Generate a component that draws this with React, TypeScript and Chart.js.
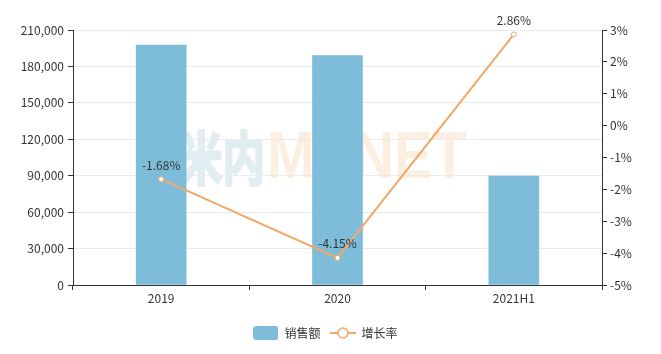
import React, { useEffect, useRef } from "react";
import { Chart, registerables } from "chart.js";

Chart.register(...registerables);

const categories = ["2019", "2020", "2021H1"];
const salesValues = [197600, 189000, 89800];
const growthRates = [-1.68, -4.15, 2.86];
const salesLabel = "销售额";
const growthLabel = "增长率";
const leftTicks = { min: 0, max: 210000, step: 30000 };
const rightTicks = { min: -5, max: 3, step: 1 };

const BAR_COLOR = "#7EBDDA";
const LINE_COLOR = "#F2A86A";
const TEXT_COLOR = "#333333";
const FONT = "'Noto Sans CJK SC', 'Noto Sans', sans-serif";

function makeBarIcon(): HTMLCanvasElement {
  const c = document.createElement("canvas");
  c.width = 25;
  c.height = 14;
  const ctx = c.getContext("2d")!;
  ctx.fillStyle = BAR_COLOR;
  const r = 3;
  ctx.beginPath();
  ctx.moveTo(r, 0);
  ctx.lineTo(25 - r, 0);
  ctx.quadraticCurveTo(25, 0, 25, r);
  ctx.lineTo(25, 14 - r);
  ctx.quadraticCurveTo(25, 14, 25 - r, 14);
  ctx.lineTo(r, 14);
  ctx.quadraticCurveTo(0, 14, 0, 14 - r);
  ctx.lineTo(0, r);
  ctx.quadraticCurveTo(0, 0, r, 0);
  ctx.closePath();
  ctx.fill();
  return c;
}

function makeLineIcon(): HTMLCanvasElement {
  const c = document.createElement("canvas");
  c.width = 26;
  c.height = 14;
  const ctx = c.getContext("2d")!;
  ctx.strokeStyle = LINE_COLOR;
  ctx.lineWidth = 2;
  ctx.beginPath();
  ctx.moveTo(0, 7);
  ctx.lineTo(26, 7);
  ctx.stroke();
  ctx.beginPath();
  ctx.arc(13, 7, 5, 0, Math.PI * 2);
  ctx.fillStyle = "#ffffff";
  ctx.fill();
  ctx.lineWidth = 1.5;
  ctx.stroke();
  return c;
}

const watermarkPlugin = {
  id: "watermark",
  beforeDraw(chart: any) {
    const ctx = chart.ctx;
    ctx.save();
    ctx.textBaseline = "middle";
    ctx.textAlign = "left";
    ctx.lineJoin = "miter";
    ctx.font = `bold 58px ${FONT}`;
    const cy = 158;
    const zh = "米内";
    const zhW = ctx.measureText(zh).width;
    ctx.fillStyle = "#E2EDF1";
    ctx.strokeStyle = "#E2EDF1";
    ctx.lineWidth = 2.5;
    ctx.save();
    ctx.translate(180, cy);
    ctx.scale(85 / zhW, 1);
    ctx.strokeText(zh, 0, 0);
    ctx.fillText(zh, 0, 0);
    ctx.restore();
    ctx.font = `bold 66px 'Liberation Sans', Arial, sans-serif`;
    const en = "MENET";
    const enW = ctx.measureText(en).width;
    ctx.fillStyle = "#FDEEE2";
    ctx.save();
    ctx.translate(267, cy + 2);
    ctx.scale(200 / enW, 1);
    ctx.fillText(en, 0, 0);
    ctx.restore();
    ctx.restore();
  },
};

const pointLabelPlugin = {
  id: "pointLabels",
  afterDatasetsDraw(chart: any) {
    const ctx = chart.ctx;
    chart.data.datasets.forEach((ds: any, i: number) => {
      if (ds.type !== "line") return;
      const meta = chart.getDatasetMeta(i);
      ctx.save();
      ctx.font = `12px ${FONT}`;
      ctx.fillStyle = TEXT_COLOR;
      ctx.textAlign = "center";
      ctx.textBaseline = "bottom";
      meta.data.forEach((pt: any, j: number) => {
        ctx.fillText(`${ds.data[j].toFixed(2)}%`, pt.x, pt.y - 8);
      });
      ctx.restore();
    });
  },
};

export default function App() {
  const ref = useRef<HTMLCanvasElement | null>(null);
  useEffect(() => {
    if (!ref.current) return;
    const barIcon = makeBarIcon();
    const lineIcon = makeLineIcon();
    const chart = new Chart(ref.current, {
      type: "bar",
      data: {
        labels: categories,
        datasets: [
          {
            type: "bar",
            label: salesLabel,
            data: salesValues,
            backgroundColor: BAR_COLOR,
            barThickness: 50,
            yAxisID: "y",
            order: 1,
          } as any,
          {
            type: "line",
            label: growthLabel,
            data: growthRates,
            borderColor: LINE_COLOR,
            borderWidth: 2,
            backgroundColor: "#ffffff",
            pointBackgroundColor: "#ffffff",
            pointBorderColor: LINE_COLOR,
            pointBorderWidth: 1,
            pointRadius: 2.5,
            tension: 0,
            yAxisID: "y1",
            order: 0,
          } as any,
        ],
      },
      options: {
        responsive: false,
        animation: false,
        devicePixelRatio: 1,
        layout: { padding: { top: 30, bottom: 5, left: 0, right: 10 } },
        font: { family: FONT, size: 12 },
        color: TEXT_COLOR,
        plugins: {
          tooltip: { enabled: false },
          legend: {
            position: "bottom",
            labels: {
              usePointStyle: true,
              pointStyleWidth: 25,
              padding: 10,
              color: TEXT_COLOR,
              font: { family: FONT, size: 12 },
              generateLabels(chart: any) {
                const items = Chart.defaults.plugins.legend.labels.generateLabels(chart);
                items.sort((a: any, b: any) => a.datasetIndex - b.datasetIndex);
                items.forEach((it: any) => {
                  it.pointStyle = it.datasetIndex === 0 ? barIcon : lineIcon;
                });
                return items;
              },
            },
          },
        },
        scales: {
          x: {
            offset: true,
            grid: {
              offset: true,
              drawOnChartArea: false,
              tickColor: "#333",
              tickLength: 5,
            },
            border: { color: "#333" },
            ticks: { color: TEXT_COLOR, padding: 1, font: { family: FONT, size: 12 } },
            afterFit(scale: any) {
              const c = scale.chart;
              const lh = c.legend ? c.legend.height : 0;
              scale.height = c.height - 5 - lh - 285;
            },
          },
          y: {
            position: "left",
            min: leftTicks.min,
            max: leftTicks.max,
            grid: { color: "#EBEBEB", tickColor: "#333", tickLength: 5 },
            border: { color: "#333" },
            ticks: {
              stepSize: leftTicks.step,
              color: TEXT_COLOR,
              padding: 4,
              font: { family: FONT, size: 12 },
              callback: (v: any) => Number(v).toLocaleString("en-US"),
            },
            afterFit(scale: any) {
              scale.width = 73;
            },
          },
          y1: {
            position: "right",
            min: rightTicks.min,
            max: rightTicks.max,
            grid: { drawOnChartArea: false, tickColor: "#333", tickLength: 5 },
            border: { color: "#333" },
            ticks: {
              stepSize: rightTicks.step,
              color: TEXT_COLOR,
              padding: 3,
              font: { family: FONT, size: 12 },
              callback: (v: any) => `${v}%`,
            },
            afterFit(scale: any) {
              scale.width = 49;
            },
          },
        },
      } as any,
      plugins: [watermarkPlugin, pointLabelPlugin],
    });
    return () => chart.destroy();
  }, []);
  return (
    <div style={{ position: "absolute", left: 0, top: 0, width: 661, height: 354, background: "#fff" }}>
      <canvas ref={ref} width={661} height={354} />
    </div>
  );
}
